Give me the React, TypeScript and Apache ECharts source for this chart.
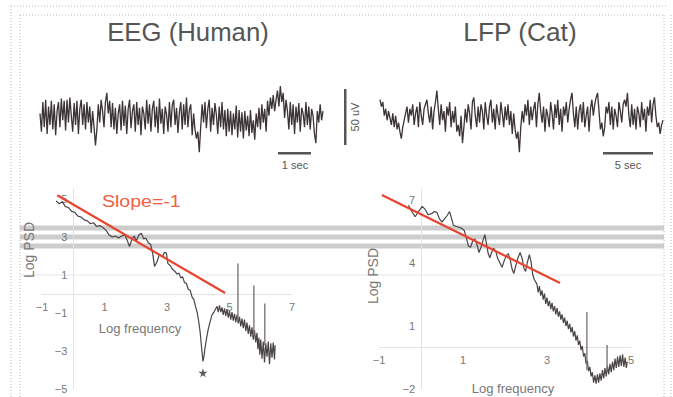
import React, { useEffect, useRef } from 'react';
import * as echarts from 'echarts';

const FONT = '"Liberation Sans", Arial, Helvetica, sans-serif';

// ---- Top traces (µV, one sample per step) ----
const eegTrace = [
  4, -12, 14, -8, 16, -14, 10, -6, 15, -10, 12, -15, 6, 14, -8, 17, -2, 15, -11, 16,
  -4, 18, 2, -12, 13, -6, 15, -14, 8, 16, -6, 12, -10, 14, -4, 10, -13, 6, -8, -24,
  -10, 12, -4, 16, 6, -8, 14, 22, 4, 15, -8, 13, -10, 9, -14, 4, 12, -11, 15, -7,
  11, -14, 8, 16, -9, 6, 12, -12, 14, -6, 9, -15, 10, 4, -10, 16, -5, 12, -12, 8,
  15, -8, 10, -13, 17, -5, 8, -14, 10, 3, -12, 14, -8, 11, 16, -6, 9, -13, 5, 14,
  -10, 12, -6, 18, -8, 7, 12, -15, 4, -10, -18, -12, -30, -8, 12, -4, 14, -9, 8, 16,
  -12, 9, -6, 13, 3, -14, 10, -8, 14, -10, 7, -16, 8, -12, 6, -15, 4, -10, 11, -17,
  7, -12, 5, -18, 6, -11, 2, -16, 7, -13, -2, -19, 4, -8, 9, -10, 12, -4, 8, -12,
  15, 2, 18, 8, 20, 6, 16, 24, 10, 28, 14, 22, 0, 16, 6, -10, 14, -6, 12, -14,
  10, -4, 13, -12, 9, 4, -8, 14, -6, 10, -10, 8, 2, -14, -22, 6, -4, 12, -2, 6,
];

const lfpTrace = [
  16, 10, 14, 2, 8, -2, 6, 0, -6, 4, -8, 2, -10, -4, -12, -18, -8, -2, 4, 10,
  -4, 8, 2, 12, -6, 4, 10, -8, 14, 2, -6, 8, 12, 16, 4, -4, 10, -10, 6, 14,
  24, 8, -6, 12, -2, 6, -12, 10, 2, 14, -8, 6, -4, 10, -12, -6, -16, 2, -22, -8,
  8, -4, 12, 4, -10, 14, 18, 2, -8, 10, -4, 12, 6, -10, 14, 2, -6, 10, 16, -4,
  8, -10, 12, 2, -6, 14, 4, -8, 10, -2, 12, -6, 6, -14, 4, -10, -18, -12, -30, -8,
  6, -4, 12, 2, 16, -6, 10, -2, 8, 14, -8, 12, 22, 6, -4, 10, -12, 8, 2, -8,
  14, 4, -10, 12, 0, 16, -6, 8, -12, 10, 2, 14, -4, 8, 16, 22, 4, -8, 10, -10,
  6, 12, -4, 14, -8, 2, 10, -12, 8, 16, 2, 12, 18, 22, 6, -10, -4, -16, -8, 10,
  4, 14, -6, 10, -10, 8, 2, -8, 14, 6, -4, 12, 16, 10, 22, 2, -8, 12, -6, 8,
  -10, 10, 4, -8, 14, -2, 8, -12, 10, 2, 16, -4, 12, 18, 2, -8, -4, -14, -6, -2,
];

// ---- EEG (Human) power spectrum: [log frequency, log PSD] ----
const eegPsd: number[][] = [
  [-0.55, 4.9], [-0.45, 4.75], [-0.35, 4.85], [-0.25, 4.6], [-0.15, 4.55], [-0.05, 4.35],
  [0.05, 4.3], [0.15, 4.1], [0.25, 4.05], [0.35, 3.9], [0.45, 3.85], [0.55, 3.7],
  [0.65, 3.75], [0.75, 3.55], [0.85, 3.6], [0.95, 3.5], [1.05, 3.35], [1.15, 3.1],
  [1.25, 3.0], [1.35, 3.05], [1.45, 2.95], [1.55, 3.05], [1.65, 3.1], [1.72, 2.85],
  [1.8, 2.5], [1.88, 2.9], [1.95, 3.05], [2.02, 2.8], [2.1, 3.1], [2.18, 3.2],
  [2.25, 2.9], [2.32, 2.95], [2.4, 2.7], [2.48, 2.6], [2.55, 2.05], [2.6, 1.45],
  [2.68, 1.7], [2.76, 2.1], [2.85, 1.95], [2.92, 2.2], [2.98, 2.15], [3.03, 1.6],
  [3.1, 1.5], [3.18, 1.3], [3.25, 1.2], [3.32, 1.05], [3.38, 1.1], [3.44, 0.85],
  [3.5, 0.9], [3.56, 0.6], [3.62, 0.55], [3.68, 0.25], [3.74, 0.2], [3.8, -0.15],
  [3.86, -0.3], [3.92, -0.7], [3.97, -1.0], [4.02, -1.5], [4.06, -2.0], [4.1, -2.7],
  [4.13, -3.2], [4.15, -3.55], [4.18, -3.3], [4.22, -2.8], [4.27, -2.3], [4.32, -1.85],
  [4.38, -1.45], [4.44, -1.1], [4.5, -0.95], [4.55, -0.8], [4.6, -0.65], [4.64, -0.95],
  [4.68, -0.6], [4.72, -0.95], [4.76, -0.7], [4.8, -1.1], [4.84, -0.75], [4.88, -1.15],
  [4.92, -0.8], [4.96, -1.25], [5.0, -0.9], [5.04, -1.35], [5.08, -0.95], [5.12, -1.4],
  [5.16, -1.05], [5.2, -1.5], [5.24, -1.1], [5.28, -1.55], [5.32, -1.2], [5.36, -1.7],
  [5.4, -1.3], [5.44, -1.8], [5.48, -1.35], [5.52, -1.95], [5.56, -1.5], [5.6, -2.1],
  [5.64, -1.65], [5.68, -2.25], [5.72, -1.75], [5.76, -2.4], [5.8, -1.9], [5.84, -2.55],
  [5.88, -2.05], [5.91, -2.9], [5.94, -2.3], [5.97, -3.2], [6.0, -2.4], [6.04, -3.4],
  [6.08, -2.5], [6.12, -3.6], [6.16, -2.6], [6.2, -3.3], [6.24, -2.5], [6.28, -3.7],
  [6.32, -2.6], [6.36, -3.35], [6.4, -2.55], [6.44, -3.45], [6.46, -2.7],
];
const eegSlope: number[][] = [[-0.51, 5.2], [4.86, 0.05]];
const eegSpikeFreq = [5.27, 5.78, 6.13];
const eegSpikeTop = [1.6, 0.45, -0.5];
const eegSpikeBottom = [-1.4, -2.2, -2.7];
const eegStar: number[][] = [[4.15, -4.15]];

// ---- LFP (Cat) power spectrum ----
const lfpPsd: number[][] = [
  [-0.3, 6.75], [-0.22, 6.45], [-0.14, 6.2], [-0.06, 6.45], [0.03, 6.7], [0.1, 6.55],
  [0.17, 6.3], [0.25, 6.35], [0.32, 6.45], [0.38, 6.4], [0.44, 6.1], [0.5, 5.95],
  [0.56, 6.1], [0.62, 6.25], [0.68, 6.45], [0.73, 6.1], [0.77, 5.8], [0.83, 5.75],
  [0.9, 5.7], [0.97, 5.65], [1.03, 5.55], [1.08, 5.2], [1.13, 4.8], [1.18, 4.75],
  [1.23, 5.05], [1.28, 5.15], [1.33, 4.9], [1.38, 4.5], [1.43, 4.75], [1.48, 5.1],
  [1.52, 5.35], [1.56, 4.9], [1.6, 4.45], [1.64, 4.25], [1.68, 4.5], [1.73, 4.7],
  [1.78, 4.55], [1.83, 4.2], [1.88, 4.0], [1.93, 3.8], [1.98, 4.1], [2.03, 4.35],
  [2.08, 4.45], [2.13, 4.1], [2.17, 3.7], [2.21, 3.5], [2.26, 3.9], [2.31, 4.25],
  [2.36, 4.5], [2.41, 4.2], [2.45, 3.75], [2.49, 3.6], [2.53, 4.0], [2.58, 4.4],
  [2.62, 4.05], [2.66, 3.45], [2.7, 3.2], [2.73, 3.1],
  [2.76, 3.0], [2.79, 2.6], [2.82, 2.9], [2.85, 2.45], [2.88, 2.7], [2.91, 2.25],
  [2.94, 2.55], [2.97, 2.05], [3.0, 2.35], [3.03, 1.95], [3.06, 2.2], [3.09, 1.8],
  [3.12, 2.1], [3.15, 1.7], [3.18, 1.95], [3.21, 1.55], [3.24, 1.85], [3.27, 1.45],
  [3.3, 1.7], [3.33, 1.3], [3.36, 1.55], [3.39, 1.15], [3.42, 1.4], [3.45, 1.0],
  [3.48, 1.25], [3.51, 0.85], [3.54, 1.1], [3.57, 0.7], [3.6, 0.95], [3.63, 0.5],
  [3.66, 0.75], [3.69, 0.3], [3.72, 0.55], [3.75, 0.1], [3.78, 0.3], [3.81, -0.15],
  [3.84, 0.05], [3.87, -0.45], [3.9, -0.3], [3.93, -0.8], [3.96, -0.65], [3.99, -1.15],
  [4.02, -0.95], [4.05, -1.4], [4.08, -1.2], [4.11, -1.7], [4.14, -1.35], [4.17, -1.75],
  [4.2, -1.3], [4.23, -1.7], [4.26, -1.25], [4.29, -1.6], [4.32, -1.1], [4.35, -1.5],
  [4.38, -1.0], [4.41, -1.4], [4.44, -0.9], [4.47, -1.3], [4.5, -0.8], [4.53, -1.2],
  [4.56, -0.7], [4.59, -1.1], [4.62, -0.55], [4.65, -1.0], [4.68, -0.45], [4.71, -0.95],
  [4.74, -0.4], [4.77, -0.9], [4.8, -0.35], [4.83, -0.95], [4.86, -0.5], [4.89, -1.0],
  [4.91, -0.7],
];
const lfpSlope: number[][] = [[-0.93, 7.24], [3.31, 3.05]];
const lfpSpikeFreq = [3.95, 4.43];
const lfpSpikeTop = [1.67, 0.1];
const lfpSpikeBottom = [-1.1, -1.1];

// ---- tick labels ----
const eegXTicks = [-1, 1, 3, 5, 7];
const eegYTicks = [-5, -3, -1, 1, 3, 5];
const lfpXTicks = [-1, 1, 3, 5];
const lfpYTicks = [-2, 1, 4, 7];

const fmt = (v: number) => String(v).replace('-', '\u2212');

const STAR = 'path://M50,0 L61,35 L98,35 L68,57 L79,91 L50,70 L21,91 L32,57 L2,35 L39,35 Z';

// grid geometry for the two spectra
const G2 = { left: 42, top: 189.5, width: 250, height: 199.5, xmin: -1, xmax: 7, ymin: -5, ymax: 5.5 };
const G3 = { left: 379, top: 189.5, width: 252, height: 199.5, xmin: -1, xmax: 5, ymin: -2, ymax: 7.5 };

function buildOption() {
  const traceAxisX = (gi: number, n: number) => ({ type: 'value', gridIndex: gi, min: 0, max: n - 1, show: false });
  const traceAxisY = (gi: number) => ({ type: 'value', gridIndex: gi, min: -35, max: 35, show: false });

  // axes are drawn through the origin: shift them from the grid edge to zero
  const psdX = (gi: number, g: any, ticks: number[]) => ({
    type: 'value', gridIndex: gi, min: g.xmin, max: g.xmax, position: 'bottom',
    offset: -((0 - g.ymin) / (g.ymax - g.ymin)) * g.height,
    axisLine: { onZero: false, lineStyle: { color: '#e3e3e3', width: 1 } },
    axisTick: { show: false },
    splitLine: { show: false },
    axisLabel: { customValues: ticks, formatter: fmt, color: '#777', fontSize: 11, fontFamily: FONT, margin: 7 },
  });
  const psdY = (gi: number, g: any, ticks: number[]) => ({
    type: 'value', gridIndex: gi, min: g.ymin, max: g.ymax, position: 'left',
    offset: -((0 - g.xmin) / (g.xmax - g.xmin)) * g.width,
    axisLine: { onZero: false, lineStyle: { color: '#e3e3e3', width: 1 } },
    axisTick: { show: false },
    splitLine: { show: false },
    axisLabel: { customValues: ticks, formatter: fmt, color: '#777', fontSize: 11, fontFamily: FONT, margin: 6 },
  });

  const spikeSeries = (axis: number, fr: number[], top: number[], bot: number[]) =>
    fr.map((f, i) => ({
      type: 'line', xAxisIndex: axis, yAxisIndex: axis,
      data: [[f, top[i]], [f, bot[i]]],
      symbol: 'none', silent: true, z: 3,
      lineStyle: { color: '#7d7679', width: 1.4 },
    }));

  const series: any[] = [
    {
      type: 'line', xAxisIndex: 0, yAxisIndex: 0, data: eegTrace.map((v, i) => [i, v]),
      symbol: 'none', silent: true, z: 3, lineStyle: { color: '#3b3335', width: 1.3 },
    },
    {
      type: 'line', xAxisIndex: 1, yAxisIndex: 1, data: lfpTrace.map((v, i) => [i, v]),
      symbol: 'none', silent: true, z: 3, lineStyle: { color: '#3b3335', width: 1.3 },
    },
    {
      type: 'line', xAxisIndex: 2, yAxisIndex: 2, data: eegPsd,
      symbol: 'none', silent: true, z: 3, lineStyle: { color: '#4a4446', width: 1.2 },
    },
    ...spikeSeries(2, eegSpikeFreq, eegSpikeTop, eegSpikeBottom),
    {
      type: 'line', xAxisIndex: 2, yAxisIndex: 2, data: eegSlope,
      symbol: 'none', silent: true, z: 4, lineStyle: { color: '#e8432d', width: 2.2 },
    },
    {
      type: 'scatter', xAxisIndex: 2, yAxisIndex: 2, data: eegStar,
      symbol: STAR, symbolSize: 9, silent: true, z: 4, itemStyle: { color: '#333' },
    },
    {
      type: 'line', xAxisIndex: 3, yAxisIndex: 3, data: lfpPsd,
      symbol: 'none', silent: true, z: 3, lineStyle: { color: '#4a4446', width: 1.2 },
    },
    ...spikeSeries(3, lfpSpikeFreq, lfpSpikeTop, lfpSpikeBottom),
    {
      type: 'line', xAxisIndex: 3, yAxisIndex: 3, data: lfpSlope,
      symbol: 'none', silent: true, z: 4, lineStyle: { color: '#e8432d', width: 2.2 },
    },
  ];

  const dotted = (x1: number, y1: number, x2: number, y2: number) => ({
    type: 'line', z: 1, silent: true,
    shape: { x1, y1, x2, y2 },
    style: { stroke: '#b9b9b9', lineWidth: 1, lineDash: [1, 2] },
  });
  const band = (y: number) => ({
    type: 'rect', z: 0, silent: true,
    shape: { x: 20, y: y - 2.5, width: 644, height: 5 },
    style: { fill: '#cdcdcd' },
  });
  const txt = (text: string, x: number, y: number, size: number, color: string, extra: any = {}) => ({
    type: 'text', z: 10, silent: true, x, y,
    style: { text, fill: color, fontSize: size, fontFamily: FONT, align: 'center', verticalAlign: 'middle' },
    ...extra,
  });

  const graphic: any[] = [
    dotted(11, 6, 667, 6),
    dotted(11, 6, 11, 397),
    dotted(20, 15, 664, 15),
    dotted(20, 15, 20, 397),
    dotted(664, 15, 664, 397),
    dotted(671, 15, 671, 397),
    band(228), band(237), band(246),
    { type: 'line', z: 0, silent: true, shape: { x1: 20, y1: 275, x2: 664, y2: 275 }, style: { stroke: '#e6e6e6', lineWidth: 1 } },
    txt('EEG (Human)', 188, 32, 25, '#555', { scaleX: 1.03 }),
    txt('LFP (Cat)', 520, 32, 25, '#555', { scaleX: 1.05 }),
    { type: 'rect', z: 10, silent: true, shape: { x: 278, y: 152, width: 33, height: 2.5 }, style: { fill: '#555' } },
    txt('1 sec', 295, 165, 11, '#555'),
    { type: 'rect', z: 10, silent: true, shape: { x: 344, y: 89, width: 2.5, height: 56 }, style: { fill: '#555' } },
    txt('50 uV', 355, 117, 11, '#555', { rotation: Math.PI / 2 }),
    { type: 'rect', z: 10, silent: true, shape: { x: 603, y: 152, width: 50, height: 2.5 }, style: { fill: '#555' } },
    txt('5 sec', 628, 165, 11, '#555'),
    {
      type: 'text', z: 10, silent: true, x: 102, y: 201, scaleX: 1.15,
      style: { text: 'Slope=-1', fill: '#f0603f', fontSize: 17, fontFamily: FONT, align: 'left', verticalAlign: 'middle' },
    },
    txt('Log frequency', 140, 328, 13, '#777'),
    txt('Log frequency', 513, 388, 13, '#777'),
    txt('Log PSD', 29, 250, 14, '#777', { rotation: Math.PI / 2 }),
    txt('Log PSD', 373, 276, 14, '#777', { rotation: Math.PI / 2 }),
  ];

  return {
    animation: false,
    backgroundColor: '#fff',
    grid: [
      { left: 40, top: 78, width: 283, height: 80, outerBoundsMode: 'none' },
      { left: 380, top: 78, width: 283, height: 80, outerBoundsMode: 'none' },
      { left: G2.left, top: G2.top, width: G2.width, height: G2.height, outerBoundsMode: 'none' },
      { left: G3.left, top: G3.top, width: G3.width, height: G3.height, outerBoundsMode: 'none' },
    ],
    xAxis: [
      traceAxisX(0, eegTrace.length),
      traceAxisX(1, lfpTrace.length),
      psdX(2, G2, eegXTicks),
      psdX(3, G3, lfpXTicks),
    ],
    yAxis: [
      traceAxisY(0),
      traceAxisY(1),
      psdY(2, G2, eegYTicks),
      psdY(3, G3, lfpYTicks),
    ],
    series,
    graphic: { elements: graphic },
  };
}

export default function App() {
  const ref = useRef<HTMLDivElement>(null);
  useEffect(() => {
    if (!ref.current) return;
    const chart = echarts.init(ref.current, undefined, { renderer: 'svg' });
    chart.setOption(buildOption() as any);
    return () => chart.dispose();
  }, []);
  return (
    <div
      ref={ref}
      style={{ position: 'fixed', left: 0, top: 0, width: 673, height: 397, background: '#fff' }}
    />
  );
}
